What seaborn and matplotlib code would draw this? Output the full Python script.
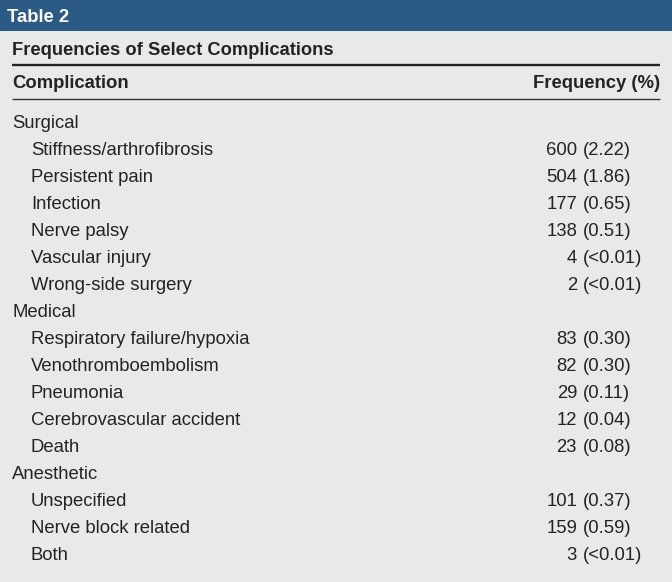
import seaborn as sns
import matplotlib.pyplot as plt

table_title = 'Table 2'
subtitle = 'Frequencies of Select Complications'
col_headers = ['Complication', 'Frequency (%)']

groups = ['Surgical', 'Medical', 'Anesthetic']
items = [
    ['Stiffness/arthrofibrosis', 'Persistent pain', 'Infection', 'Nerve palsy',
     'Vascular injury', 'Wrong-side surgery'],
    ['Respiratory failure/hypoxia', 'Venothromboembolism', 'Pneumonia',
     'Cerebrovascular accident', 'Death'],
    ['Unspecified', 'Nerve block related', 'Both'],
]
counts = [
    [600, 504, 177, 138, 4, 2],
    [83, 82, 29, 12, 23],
    [101, 159, 3],
]
percents = [
    ['2.22', '1.86', '0.65', '0.51', '<0.01', '<0.01'],
    ['0.30', '0.30', '0.11', '0.04', '0.08'],
    ['0.37', '0.59', '<0.01'],
]

sns.set_style('white')
plt.rcParams['font.family'] = ['Liberation Sans', 'DejaVu Sans']

bg = '#e8e9e9'
band = '#2b5a84'
ink = '#232323'
fs = 13.3

fig = plt.figure(figsize=(6.72, 5.82), dpi=100)
fig.patch.set_facecolor(bg)
ax = fig.add_axes([0, 0, 1, 1])
ax.set_xlim(0, 672)
ax.set_ylim(582, 0)
ax.axis('off')

# header band and column headings
ax.add_patch(plt.Rectangle((0, 0), 672, 31, color=band, lw=0))
ax.text(7, 22.5, table_title, color='white', fontsize=fs, fontweight='bold', va='baseline')
ax.text(12, 55, subtitle, color=ink, fontsize=13.2, fontweight='bold', va='baseline')
ax.plot([12, 660], [64.5, 64.5], color=ink, lw=1.7, solid_capstyle='butt')
ax.text(12, 88.5, col_headers[0], color=ink, fontsize=fs, fontweight='bold', va='baseline')
ax.text(660, 88.5, col_headers[1], color=ink, fontsize=fs, fontweight='bold', va='baseline', ha='right')
ax.plot([12, 660], [99.3, 99.3], color='#333333', lw=1.0, solid_capstyle='butt')

# body rows, counts aligned on the opening parenthesis
y = 128
step = 27
for g, its, cs, ps in zip(groups, items, counts, percents):
    ax.text(12, y, g, color=ink, fontsize=fs, va='baseline')
    y += step
    for it, c, p in zip(its, cs, ps):
        ax.text(31, y, it, color=ink, fontsize=fs, va='baseline')
        ax.text(577, y, str(c), color=ink, fontsize=fs, va='baseline', ha='right')
        ax.text(582.5, y, f'({p})', color=ink, fontsize=fs, va='baseline', ha='left')
        y += step

fig.savefig('out.png', dpi=100, facecolor=bg)
